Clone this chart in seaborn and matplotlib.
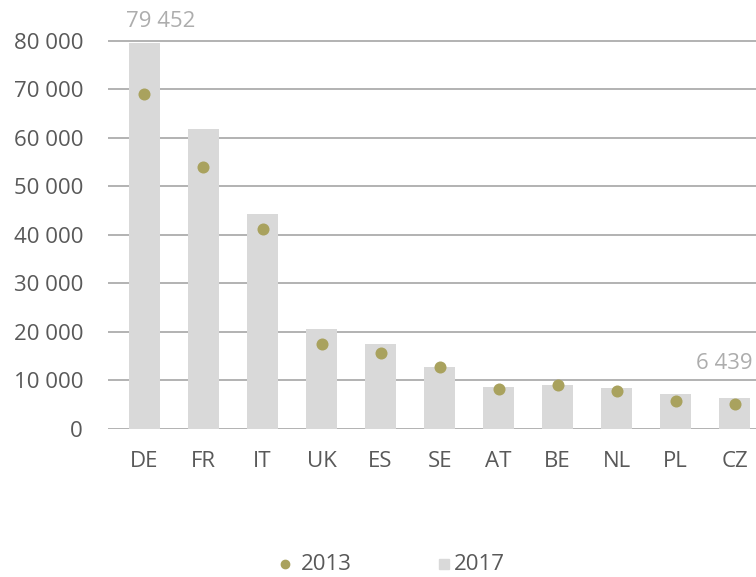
import matplotlib
matplotlib.use("Agg")
import matplotlib.pyplot as plt
from matplotlib.lines import Line2D
import seaborn as sns
import pandas as pd

countries = ["DE", "FR", "IT", "UK", "ES", "SE", "AT", "BE", "NL", "PL", "CZ"]
values_2017 = [79452, 61900, 44200, 20500, 17500, 12700, 8700, 9100, 8500, 7300, 6439]
values_2013 = [69000, 54000, 41200, 17500, 15700, 12800, 8300, 9100, 7900, 5700, 5100]
y_ticks = [0, 10000, 20000, 30000, 40000, 50000, 60000, 70000, 80000]

df = pd.DataFrame({"country": countries, "y2017": values_2017, "y2013": values_2013})

sns.set_theme(style="white")
plt.rcParams["font.family"] = ["Open Sans", "DejaVu Sans"]

BAR = "#d9d9d9"
DOT = "#a9a25e"
TEXT = "#595959"
LABEL = "#adadad"
GRID = "#a6a6a6"
FS = 16


def fmt(v):
    return f"{v:,}".replace(",", " ")


fig = plt.figure(figsize=(7.56, 5.77), dpi=100)
ax = fig.add_axes([0.1429, 0.2565, 0.8571, 0.7151])

sns.barplot(data=df, x="country", y="y2017", color=BAR, width=0.53,
            saturation=1, linewidth=0, ax=ax, zorder=2)
sns.scatterplot(data=df, x="country", y="y2013", color=DOT, s=75,
                linewidth=0, ax=ax, zorder=3)

ax.set_ylim(0, 85000)
ax.set_xlim(-0.617, 10.36)
ax.set_yticks(y_ticks)
ax.set_yticklabels([fmt(v) for v in y_ticks])
for v in y_ticks:
    ax.axhline(v, color=GRID, lw=1.2, zorder=1)

ax.tick_params(axis="y", length=0, pad=18, labelsize=FS, labelcolor=TEXT)
ax.tick_params(axis="x", length=0, pad=16, labelsize=FS, labelcolor=TEXT)
ax.set_xlabel("")
ax.set_ylabel("")
for s in ax.spines.values():
    s.set_visible(False)

# value labels for the largest and the smallest country
ax.annotate(fmt(values_2017[0]), xy=(0, values_2017[0]), xytext=(11.7, 16),
            textcoords="offset points", ha="center", va="center",
            fontsize=FS, color=LABEL, annotation_clip=False)
ax.annotate(fmt(values_2017[-1]), xy=(10, values_2017[-1]), xytext=(-7.2, 24.6),
            textcoords="offset points", ha="center", va="center",
            fontsize=FS, color=LABEL, annotation_clip=False)

# legend below the plot
ly = 1 - 564 / 577
fig.add_artist(Line2D([285 / 756], [ly], marker="o", color=DOT, linestyle="none",
                      markersize=6, transform=fig.transFigure))
fig.text(301 / 756, ly, "2013", ha="left", va="center", fontsize=FS, color=TEXT)
fig.add_artist(Line2D([444.5 / 756], [ly], marker="s", color=BAR, linestyle="none",
                      markersize=6.5, transform=fig.transFigure))
fig.text(454 / 756, ly, "2017", ha="left", va="center", fontsize=FS, color=TEXT)

fig.savefig("out.png", dpi=100)
